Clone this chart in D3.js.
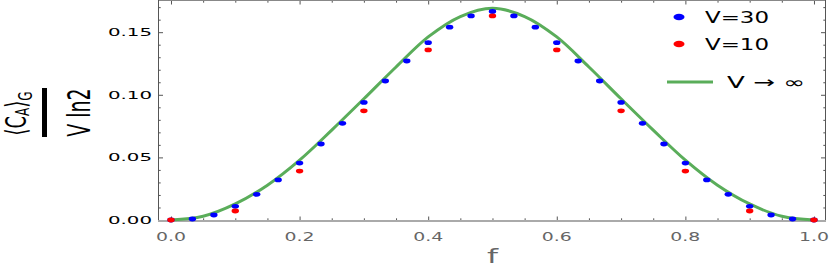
<!DOCTYPE html>
<html>
<head>
<meta charset="utf-8">
<script src="https://cdn.jsdelivr.net/npm/d3@7"></script>
<style>
  body { margin: 0; background: #fff; }
  svg { display: block; font-family: "DejaVu Sans", sans-serif; }
</style>
</head>
<body>
<div id="chart"></div>
<script>
// V -> infinity curve
const fInf = [0, 0.05, 0.1, 0.15, 0.2, 0.25, 0.3, 0.35, 0.4, 0.45, 0.5,
              0.55, 0.6, 0.65, 0.7, 0.75, 0.8, 0.85, 0.9, 0.95, 1];
const cInf = [0, 0.003, 0.0128, 0.0278, 0.0478, 0.0718, 0.0968, 0.1222, 0.1462, 0.1625, 0.1691,
              0.1625, 0.1462, 0.1222, 0.0968, 0.0718, 0.0478, 0.0278, 0.0128, 0.003, 0];

// V = 30 points (f = k/30)
const f30 = [0, 0.0333, 0.0667, 0.1, 0.1333, 0.1667, 0.2, 0.2333, 0.2667, 0.3, 0.3333,
             0.3667, 0.4, 0.4333, 0.4667, 0.5, 0.5333, 0.5667, 0.6, 0.6333, 0.6667,
             0.7, 0.7333, 0.7667, 0.8, 0.8333, 0.8667, 0.9, 0.9333, 0.9667, 1];
const c30 = [0, 0.0008, 0.004, 0.0109, 0.0205, 0.032, 0.0455, 0.0607, 0.0772, 0.0939, 0.111,
             0.127, 0.1416, 0.154, 0.163, 0.1665, 0.163, 0.154, 0.1416, 0.127, 0.111,
             0.0939, 0.0772, 0.0607, 0.0455, 0.032, 0.0205, 0.0109, 0.004, 0.0008, 0];

// V = 10 points (f = k/10)
const f10 = [0, 0.1, 0.2, 0.3, 0.4, 0.5, 0.6, 0.7, 0.8, 0.9, 1];
const c10 = [0, 0.0072, 0.0391, 0.0872, 0.1358, 0.163, 0.1358, 0.0872, 0.0391, 0.0072, 0];

// ticks
const xMajor = [0, 0.2, 0.4, 0.6, 0.8, 1.0];
const xMinor = [0.05, 0.1, 0.15, 0.25, 0.3, 0.35, 0.45, 0.5, 0.55, 0.65, 0.7, 0.75, 0.85, 0.9, 0.95];
const yMajor = [0, 0.05, 0.10, 0.15];
const yMinor = [0.01, 0.02, 0.03, 0.04, 0.06, 0.07, 0.08, 0.09, 0.11, 0.12, 0.13, 0.14, 0.16, 0.17];

const width = 830, height = 273;
const plotL = 158, plotR = 826, plotT = 0, plotB = 221;

const svg = d3.select("#chart").append("svg")
    .attr("width", width)
    .attr("height", height);

const x = d3.scaleLinear().domain([-0.0202, 1.0187]).range([plotL, plotR]);
const y = d3.scaleLinear().domain([-0.0008, 0.1757]).range([plotB, plotT]);

// inward ticks on all four sides
function tickSet(axisFn, scale, vals, size, tr) {
  svg.append("g")
    .attr("transform", tr)
    .call(axisFn(scale).tickValues(vals).tickSize(-size).tickSizeOuter(0).tickFormat(""))
    .call(g => g.select(".domain").remove())
    .call(g => g.selectAll("line").attr("stroke", "#555").attr("stroke-width", 1));
}
tickSet(d3.axisBottom, x, xMajor, 4.5, `translate(0,${plotB})`);
tickSet(d3.axisBottom, x, xMinor, 2.7, `translate(0,${plotB})`);
tickSet(d3.axisTop, x, xMajor, 4.5, `translate(0,${plotT})`);
tickSet(d3.axisTop, x, xMinor, 2.7, `translate(0,${plotT})`);
tickSet(d3.axisLeft, y, yMajor, 5, `translate(${plotL},0)`);
tickSet(d3.axisLeft, y, yMinor, 2.7, `translate(${plotL},0)`);
tickSet(d3.axisRight, y, yMajor, 5, `translate(${plotR},0)`);
tickSet(d3.axisRight, y, yMinor, 2.7, `translate(${plotR},0)`);

// spines
svg.append("line").attr("x1", plotL).attr("x2", plotR).attr("y1", plotT + 0.5).attr("y2", plotT + 0.5)
  .attr("stroke", "#888").attr("stroke-width", 1);
svg.append("line").attr("x1", plotL + 0.5).attr("x2", plotL + 0.5).attr("y1", plotT).attr("y2", plotB)
  .attr("stroke", "#555").attr("stroke-width", 1);
svg.append("line").attr("x1", plotR - 0.5).attr("x2", plotR - 0.5).attr("y1", plotT).attr("y2", plotB)
  .attr("stroke", "#555").attr("stroke-width", 1);
svg.append("line").attr("x1", plotL).attr("x2", plotR).attr("y1", plotB).attr("y2", plotB)
  .attr("stroke", "#aaa").attr("stroke-width", 2);

// tick labels
svg.append("g").selectAll("text")
  .data(yMajor)
  .join("text")
    .attr("x", 152)
    .attr("y", d => y(d) + 3.9)
    .attr("text-anchor", "end")
    .attr("font-size", 10.5)
    .attr("textLength", 44)
    .attr("lengthAdjust", "spacingAndGlyphs")
    .attr("fill", "#000")
    .text(d => d.toFixed(2));

svg.append("g").selectAll("text")
  .data(xMajor)
  .join("text")
    .attr("x", d => x(d))
    .attr("y", 240.7)
    .attr("text-anchor", "middle")
    .attr("font-size", 12.5)
    .attr("textLength", 30)
    .attr("lengthAdjust", "spacingAndGlyphs")
    .attr("fill", "#666")
    .text(d => d.toFixed(1));

// axis titles
svg.append("text")
  .attr("x", 492.5).attr("y", 262.7)
  .attr("text-anchor", "middle")
  .attr("font-size", 20)
  .attr("textLength", 11)
  .attr("lengthAdjust", "spacingAndGlyphs")
  .attr("fill", "#666")
  .text("f");

const num = svg.append("text")
  .attr("transform", "translate(26,113.5) scale(1.6,1) rotate(-90)")
  .attr("text-anchor", "middle")
  .attr("font-size", 18)
  .attr("fill", "#000");
num.append("tspan").text("⟨C");
num.append("tspan").attr("font-size", 12).attr("dy", 2).text("A");
num.append("tspan").attr("dy", -2).text("⟩");
num.append("tspan").attr("font-size", 12).attr("dy", 4).text("G");

svg.append("rect")
  .attr("x", 42).attr("y", 88).attr("width", 5).attr("height", 49)
  .attr("fill", "#000");

svg.append("text")
  .attr("transform", "translate(90,112.5) scale(1.66,1) rotate(-90)")
  .attr("text-anchor", "middle")
  .attr("font-size", 19)
  .attr("fill", "#000")
  .text("V ln2");

// V -> infinity curve
const line = d3.line()
  .x((d, i) => x(fInf[i]))
  .y(d => y(d))
  .curve(d3.curveCatmullRom);

svg.append("path")
  .datum(cInf)
  .attr("d", line)
  .attr("fill", "none")
  .attr("stroke", "#5aad5a")
  .attr("stroke-width", 3);

// points
svg.append("g").selectAll("ellipse")
  .data(c30)
  .join("ellipse")
    .attr("cx", (d, i) => x(f30[i]))
    .attr("cy", d => y(d))
    .attr("rx", 3.7).attr("ry", 2.4)
    .attr("fill", "#0000ff");

svg.append("g").selectAll("ellipse")
  .data(c10)
  .join("ellipse")
    .attr("cx", (d, i) => x(f10[i]))
    .attr("cy", d => y(d))
    .attr("rx", 3.7).attr("ry", 2.4)
    .attr("fill", "#ff0000");

// legend
svg.append("ellipse").attr("cx", 679).attr("cy", 17).attr("rx", 5.5).attr("ry", 3.2).attr("fill", "#0000ff");
svg.append("ellipse").attr("cx", 679).attr("cy", 44).attr("rx", 5.5).attr("ry", 3.2).attr("fill", "#ff0000");
svg.append("line").attr("x1", 667).attr("x2", 713).attr("y1", 82).attr("y2", 82)
  .attr("stroke", "#5aad5a").attr("stroke-width", 3);

const legendText = [
  {t: "V=30", x: 705, y: 23.3, w: 64},
  {t: "V=10", x: 705, y: 50, w: 64},
  {t: "V → ∞", x: 727, y: 88, w: 78}
];
svg.append("g").selectAll("text")
  .data(legendText)
  .join("text")
    .attr("x", d => d.x)
    .attr("y", d => d.y)
    .attr("font-size", 16)
    .attr("textLength", d => d.w)
    .attr("lengthAdjust", "spacingAndGlyphs")
    .attr("fill", "#000")
    .text(d => d.t);
</script>
</body>
</html>
